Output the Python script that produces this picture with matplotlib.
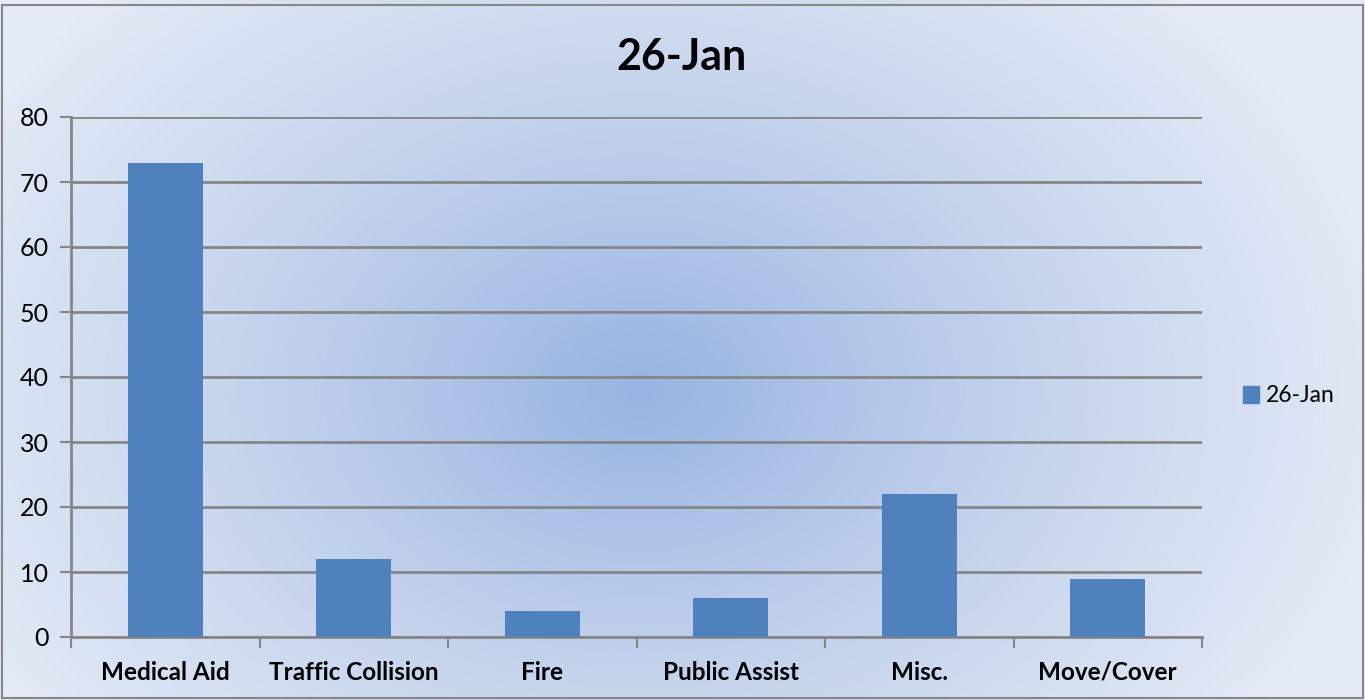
import numpy as np
import matplotlib.pyplot as plt
import matplotlib.patches as mpatches
from matplotlib.colors import LinearSegmentedColormap

categories = ['Medical Aid', 'Traffic Collision', 'Fire', 'Public Assist', 'Misc.', 'Move/Cover']
values = [73, 12, 4, 6, 22, 9]
series_name = '26-Jan'

plt.rcParams['font.family'] = ['Lato', 'DejaVu Sans']

fig = plt.figure(figsize=(13.65, 7), dpi=100)

# radial gradient background
bg = fig.add_axes([0, 0, 1, 1], zorder=-10)
xx, yy = np.meshgrid(np.linspace(0, 1365, 400), np.linspace(0, 700, 220))
r = np.sqrt(((xx - 640) / 760) ** 2 + ((yy - 390) / 560) ** 2)
r = np.clip(r, 0, 1)
cmap = LinearSegmentedColormap.from_list('bg', ['#98b4e2', '#c3d2ec', '#e4eaf6'])
bg.imshow(r, cmap=cmap, extent=[0, 1365, 700, 0], aspect='auto', interpolation='bilinear')
bg.set_xlim(0, 1365)
bg.set_ylim(700, 0)
bg.axis('off')
bg.add_patch(mpatches.Rectangle((2, 5), 1361, 693, fill=False, edgecolor='#868686', lw=1.5))

ax = fig.add_axes([71 / 1365, 1 - 637 / 700, 1131 / 1365, 520 / 700])
ax.patch.set_alpha(0)

x = np.arange(len(categories))
ax.bar(x, values, width=0.4, color='#4f81bd', zorder=3, label=series_name)

ax.set_xlim(-0.5, len(categories) - 0.5)
ax.set_ylim(0, 80)
ax.set_yticks(range(0, 81, 10))
ax.tick_params(axis='y', labelsize=18, length=8, width=1.5, color='#868686', pad=8)
ax.yaxis.grid(True, color='#868686', lw=2, zorder=1)

ax.set_xticks(x)
ax.set_xticklabels(categories, fontsize=17.5, fontweight='bold')
ax.tick_params(axis='x', length=0, pad=17)
ax.set_xticks(np.arange(-0.5, len(categories), 1), minor=True)
ax.tick_params(axis='x', which='minor', length=8, width=1.5, color='#868686')

for s in ['top', 'right']:
    ax.spines[s].set_visible(False)
for s in ['left', 'bottom']:
    ax.spines[s].set_color('#868686')
    ax.spines[s].set_linewidth(2)

fig.text(682 / 1365, 1 - 57 / 700, '26-Jan', fontsize=31, fontweight='bold', ha='center', va='center')

handle = mpatches.Patch(color='#4f81bd', label=series_name)
fig.legend(handles=[handle], loc='center left', bbox_to_anchor=(1222 / 1365, 1 - 396 / 700),
           frameon=False, fontsize=16.5, handlelength=0.7, handleheight=0.7, handletextpad=0.3)

fig.savefig('out.png', dpi=100)
